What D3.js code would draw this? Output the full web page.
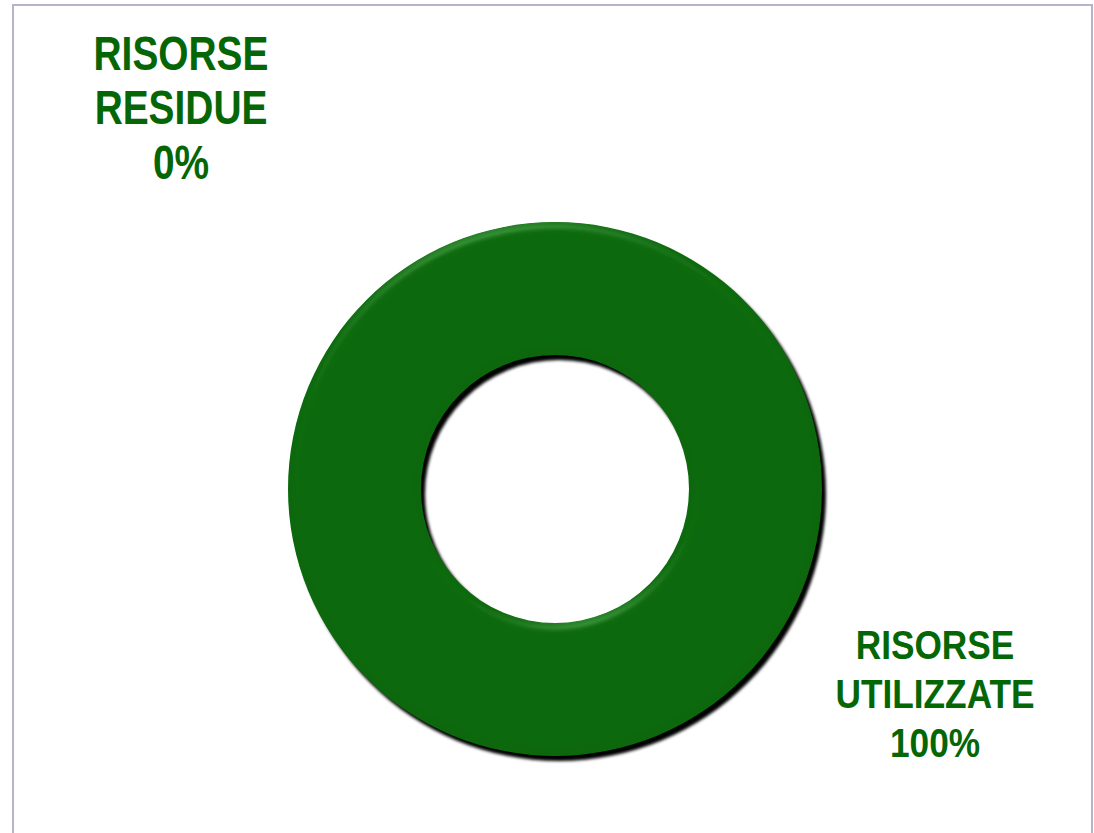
<!DOCTYPE html>
<html>
<head>
<meta charset="utf-8">
<script src="https://cdn.jsdelivr.net/npm/d3@7"></script>
<style>
  html, body { margin: 0; padding: 0; background: #fff; }
  svg { display: block; }
</style>
</head>
<body>
<svg id="chart"></svg>
<script>
// data
var categories = ["RISORSE RESIDUE", "RISORSE UTILIZZATE"];
var values = [0, 100];
var colors = ["#c8c8c8", "#086808"];

var width = 1094, height = 833;
var cx = 555, cy = 489,
    outerR = 267, innerR = 134;

var svg = d3.select("#chart")
    .attr("width", width)
    .attr("height", height);

// frame
svg.append("rect")
    .attr("x", 13).attr("y", 5)
    .attr("width", 1079).attr("height", 840)
    .attr("fill", "#fff")
    .attr("stroke", "#b4b4cc")
    .attr("stroke-width", 2);

var defs = svg.append("defs");

var shadow = defs.append("filter").attr("id", "shadow")
    .attr("x", "-10%").attr("y", "-10%").attr("width", "120%").attr("height", "120%");
shadow.append("feGaussianBlur").attr("stdDeviation", 1.5);

var bevel = defs.append("filter").attr("id", "bevel")
    .attr("x", "-10%").attr("y", "-10%").attr("width", "120%").attr("height", "120%");
bevel.append("feGaussianBlur").attr("in", "SourceAlpha").attr("stdDeviation", 5).attr("result", "blur");
var spec = bevel.append("feSpecularLighting")
    .attr("in", "blur")
    .attr("surfaceScale", 4)
    .attr("specularConstant", 0.6)
    .attr("specularExponent", 35)
    .attr("lighting-color", "#66cc66")
    .attr("result", "spec");
spec.append("feDistantLight").attr("azimuth", 255).attr("elevation", 40);
bevel.append("feComposite").attr("in", "spec").attr("in2", "SourceAlpha")
    .attr("operator", "in").attr("result", "specIn");
bevel.append("feComposite").attr("in", "SourceGraphic").attr("in2", "specIn")
    .attr("operator", "arithmetic")
    .attr("k1", 0).attr("k2", 1).attr("k3", 0.35).attr("k4", 0);

var data = categories.map(function (c, i) {
    return { label: c, value: values[i], color: colors[i] };
});

var pie = d3.pie()
    .sort(null)
    .value(function (d) { return d.value; });

var arc = d3.arc()
    .innerRadius(innerR)
    .outerRadius(outerR);

var arcs = pie(data).filter(function (d) { return d.value > 0; });

// drop shadow
svg.append("g")
    .attr("transform", "translate(" + (cx + 4) + "," + (cy + 5) + ")")
    .attr("filter", "url(#shadow)")
    .selectAll("path")
    .data(arcs)
    .enter().append("path")
    .attr("fill", "#000")
    .attr("d", arc);

svg.append("g")
    .attr("transform", "translate(" + cx + "," + cy + ")")
    .attr("filter", "url(#bevel)")
    .selectAll("path")
    .data(arcs)
    .enter().append("path")
    .attr("fill", function (d) { return d.data.color; })
    .attr("d", arc);

// labels (no narrow font installed, so squeeze horizontally)
var total = d3.sum(values);
var labelPos = [
    { x: 181, y: 70, size: 48, step: 54.5, sx: 0.81 },
    { x: 935, y: 659, size: 41, step: 49, sx: 0.86 }
];

data.forEach(function (d, i) {
    var lines = d.label.split(" ").concat([Math.round(d.value / total * 100) + "%"]);
    var p = labelPos[i];
    var t = svg.append("text")
        .attr("transform", "translate(" + p.x + "," + p.y + ") scale(" + p.sx + ",1)")
        .attr("text-anchor", "middle")
        .attr("fill", "#056605")
        .style("font-family", "'Liberation Sans Narrow', 'Arial Narrow', 'Liberation Sans', sans-serif")
        .style("font-weight", "bold")
        .style("font-size", p.size + "px");
    lines.forEach(function (l, j) {
        t.append("tspan")
            .attr("x", 0)
            .attr("y", j * p.step)
            .text(l);
    });
});
</script>
</body>
</html>
